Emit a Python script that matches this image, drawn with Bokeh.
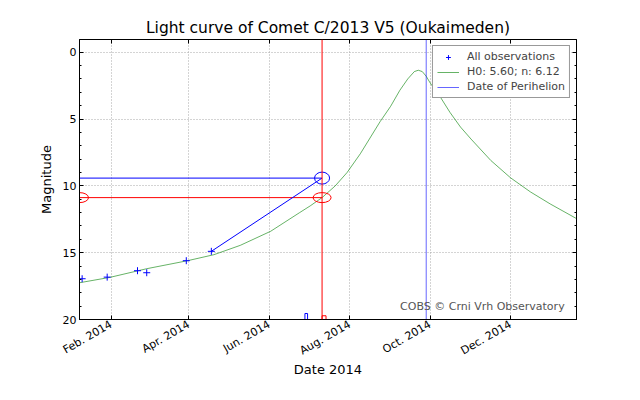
import math
import numpy as np
import pandas as pd
from bokeh.plotting import figure
from bokeh.models import (Range1d, FixedTicker, DatetimeAxis, LinearAxis, Span,
                          Legend, LegendItem, Label)
from bokeh.embed import file_html
from bokeh.resources import INLINE

# ---------------- data ----------------
TITLE = "Light curve of Comet C/2013 V5 (Oukaimeden)"
X_LABEL = "Date 2014"
Y_LABEL = "Magnitude"
CREDIT = "COBS \u00a9 Crni Vrh Observatory"

obs_dates = ["2014-01-10", "2014-01-29", "2014-02-21", "2014-02-28",
             "2014-03-30", "2014-04-18"]
obs_mags = [16.95, 16.83, 16.35, 16.5, 15.6, 14.9]

model_label = "H0: 5.60; n: 6.12"
model_dates = ["2014-01-08", "2014-01-31", "2014-02-28", "2014-03-31",
               "2014-04-20", "2014-05-10", "2014-06-02", "2014-06-24",
               "2014-07-02", "2014-07-11", "2014-07-21", "2014-07-30",
               "2014-08-09", "2014-08-24", "2014-09-01", "2014-09-08",
               "2014-09-14", "2014-09-19", "2014-09-22", "2014-09-25",
               "2014-09-28", "2014-10-01", "2014-10-09", "2014-10-16",
               "2014-10-24", "2014-11-01", "2014-11-16", "2014-12-01",
               "2014-12-16", "2014-12-31", "2015-01-20"]
model_mags = [17.25, 16.85, 16.2, 15.6,
              15.15, 14.45, 13.4, 12.0,
              11.5, 10.88, 10.0, 9.0,
              7.6, 5.2, 4.05, 2.85,
              2.0, 1.45, 1.35, 1.45,
              1.8, 2.3, 3.4, 4.5,
              5.6, 6.5, 8.1, 9.4,
              10.45, 11.35, 12.45]

perihelion_dates = ["2014-09-28"]
ref_date = "2014-07-11"
red_mag = 10.88
blue_mag = 9.42

hist_left = ["2014-06-28", "2014-07-11"]
hist_right = ["2014-06-30", "2014-07-14"]
hist_top = [19.55, 19.72]
hist_colors = ["blue", "red"]

x_tick_dates = ["2014-02-01", "2014-04-01", "2014-06-01", "2014-08-01",
                "2014-10-01", "2014-12-01"]
x_tick_labels = ["Feb. 2014", "Apr. 2014", "Jun. 2014", "Aug. 2014",
                 "Oct. 2014", "Dec. 2014"]
y_ticks = [0, 5, 10, 15, 20]
y_minor = list(range(0, 21))

x_start, x_end = "2014-01-08", "2015-01-20"
y_bottom, y_top = 20, -0.95


def ms(d):
    return [float(v) for v in pd.to_datetime(d).values.astype("datetime64[ms]").astype("int64")]


FONT = "DejaVu Sans"

p = figure(frame_width=497, frame_height=280,
           min_border_left=79, min_border_right=64,
           min_border_top=39, min_border_bottom=81,
           x_axis_type="datetime",
           x_range=Range1d(ms([x_start])[0], ms([x_end])[0]),
           y_range=Range1d(y_bottom, y_top),
           output_backend="svg", toolbar_location=None,
           background_fill_color="white", border_fill_color="white")

p.title.text = TITLE
p.title.align = "center"
p.title.text_font = FONT
p.title.text_font_size = "15.5px"
p.title.text_font_style = "normal"
p.title.text_color = "black"
p.title.standoff = 5

xt = ms(x_tick_dates)
x_ticker = FixedTicker(ticks=xt, minor_ticks=[])
y_ticker = FixedTicker(ticks=y_ticks, minor_ticks=y_minor)

for ax in p.xaxis:
    ax.ticker = x_ticker
    ax.major_label_overrides = {t: l for t, l in zip(xt, x_tick_labels)}
    ax.major_label_orientation = math.pi / 6
    ax.axis_label = X_LABEL
for ax in p.yaxis:
    ax.ticker = y_ticker
    ax.axis_label = Y_LABEL

for ax in list(p.xaxis) + list(p.yaxis):
    ax.major_tick_in = 4
    ax.major_tick_out = 0
    ax.minor_tick_in = 2
    ax.minor_tick_out = 0
    ax.axis_line_color = "black"
    ax.major_tick_line_color = "black"
    ax.minor_tick_line_color = "black"
    ax.major_label_text_font = FONT
    ax.major_label_text_font_size = "11px"
    ax.major_label_text_color = "black"
    ax.major_label_standoff = 3
    ax.axis_label_text_font = FONT
    ax.axis_label_text_font_size = "13px"
    ax.axis_label_text_font_style = "normal"
    ax.axis_label_text_color = "black"
    ax.axis_label_standoff = 6
for ax in p.xaxis:
    ax.major_label_standoff = 4
    ax.axis_label_standoff = -4

top_ax = DatetimeAxis(ticker=x_ticker, major_tick_in=4, major_tick_out=0,
                      minor_tick_in=0, minor_tick_out=0, major_label_standoff=0,
                      major_label_text_font_size="0px", axis_line_color="black")
right_ax = LinearAxis(ticker=y_ticker, major_tick_in=4, major_tick_out=0,
                      minor_tick_in=2, minor_tick_out=0,
                      major_label_text_font_size="0px", axis_line_color="black")
p.add_layout(top_ax, "above")
p.add_layout(right_ax, "right")

p.outline_line_color = "black"
p.outline_line_width = 1

for g in (p.xgrid, p.ygrid):
    g.grid_line_color = "#a8a8a8"
    g.grid_line_dash = "1 2"
    g.grid_line_width = 1
p.xgrid.ticker = x_ticker
p.ygrid.ticker = y_ticker

# model light curve
model_r = p.line(ms(model_dates), model_mags, line_color="green",
                 line_width=1, line_alpha=0.6)

# reference lines
x_ref = ms([ref_date])[0]
p.add_layout(Span(location=x_ref, dimension="height", line_color="red", line_width=1))
p.segment(x0=ms([x_start])[0], y0=red_mag, x1=x_ref, y1=red_mag,
          line_color="red", line_width=1)
p.segment(x0=ms([x_start])[0], y0=blue_mag, x1=x_ref, y1=blue_mag,
          line_color="blue", line_width=1)
p.segment(x0=ms([obs_dates[-1]])[0], y0=obs_mags[-1], x1=x_ref, y1=blue_mag,
          line_color="blue", line_width=1)

# perihelion
peri_r = p.segment(x0=ms(perihelion_dates), y0=[y_bottom], x1=ms(perihelion_dates),
                   y1=[y_top], line_color="blue", line_width=1, line_alpha=0.6)

# circles
p.ellipse(x=[ms([x_start])[0], x_ref], y=[red_mag, red_mag], width=18, height=10,
          width_units="screen", height_units="screen",
          fill_color=None, line_color="red", line_width=1)
p.ellipse(x=[x_ref], y=[blue_mag], width=15, height=12,
          width_units="screen", height_units="screen",
          fill_color=None, line_color="blue", line_width=1)

# small histogram bars
p.quad(left=ms(hist_left), right=ms(hist_right), top=hist_top,
       bottom=[y_bottom] * len(hist_top), fill_color=None,
       line_color=hist_colors, line_width=1)

# observations
obs_r = p.scatter(ms(obs_dates), obs_mags, marker="cross", size=7,
                  line_color="blue", line_width=1)

legend = Legend(items=[LegendItem(label="All observations", renderers=[obs_r]),
                       LegendItem(label=model_label, renderers=[model_r]),
                       LegendItem(label="Date of Perihelion", renderers=[peri_r])],
                location="top_right", margin=6, padding=4, spacing=2,
                glyph_width=22, glyph_height=12, label_standoff=8,
                label_text_font=FONT, label_text_font_size="11px",
                label_height=12,
                border_line_color="#333333", border_line_width=1,
                background_fill_color="white", background_fill_alpha=1)
p.add_layout(legend, "center")

p.add_layout(Label(x=ms(["2015-01-11"])[0], y=19.03, text=CREDIT,
                   text_align="right", text_baseline="middle",
                   text_font=FONT, text_font_size="11px", text_color="#555555"))

open("out.html", "w").write(file_html(p, INLINE))
